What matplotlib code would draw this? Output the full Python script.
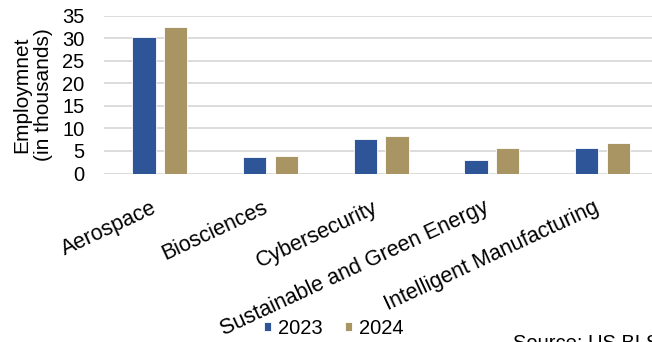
import matplotlib
matplotlib.use("Agg")
import matplotlib.pyplot as plt
import numpy as np

plt.rcParams['font.family'] = ['Liberation Sans', 'DejaVu Sans']

categories = ["Aerospace", "Biosciences", "Cybersecurity",
              "Sustainable and Green Energy", "Intelligent Manufacturing"]
series_names = ["2023", "2024"]
values_2023 = [30.2, 3.6, 7.6, 2.9, 5.7]
values_2024 = [32.6, 3.9, 8.4, 5.7, 6.7]
yticks = [0, 5, 10, 15, 20, 25, 30, 35]

blue = "#2D5597"
tan = "#A99563"
grid = "#D9D9D9"

W, H = 652, 342
fig = plt.figure(figsize=(W / 100, H / 100), dpi=100)
ax = fig.add_axes([104.4 / W, 1 - 173.5 / H, (658 - 104.4) / W, (173.5 - 15.7) / H])

x = np.arange(len(categories))
bw = 0.21
off = 0.143
b1 = ax.bar(x - off, values_2023, bw, color=blue, edgecolor="white", linewidth=0.6, label=series_names[0], zorder=3)
b2 = ax.bar(x + off, values_2024, bw, color=tan, edgecolor="white", linewidth=0.6, label=series_names[1], zorder=3)

ax.set_xlim(-0.5, len(categories) - 0.5)
ax.set_ylim(0, 35)
ax.set_yticks(yticks)
ax.yaxis.grid(True, color=grid, linewidth=1.3, zorder=0)
ax.set_axisbelow(True)
for s in ax.spines.values():
    s.set_visible(False)
ax.tick_params(axis='y', length=0, pad=14.4, labelsize=14.5)
ax.tick_params(axis='x', length=0, pad=17, labelsize=15.5)
ax.set_xticks(x)
ax.set_xticklabels(categories, rotation=25, ha='right', va='top')

fig.text(32.5 / W, 1 - 95 / H, "Employmnet\n(in thousands)", rotation=90,
         ha='center', va='center', multialignment='center', fontsize=15, linespacing=1.15)

leg = fig.legend(handles=[b1, b2], labels=series_names, loc='center',
                 bbox_to_anchor=(333.5 / W, 1 - 328 / H), ncol=2, frameon=False,
                 fontsize=14.5, handlelength=0.35, handleheight=0.35,
                 handletextpad=0.35, columnspacing=1.1, borderpad=0, borderaxespad=0)

fig.text(513 / W, 1 - 334 / H, "Source: US BLS", ha='left', va='top', fontsize=14.5)

fig.savefig("out.png", dpi=100)
